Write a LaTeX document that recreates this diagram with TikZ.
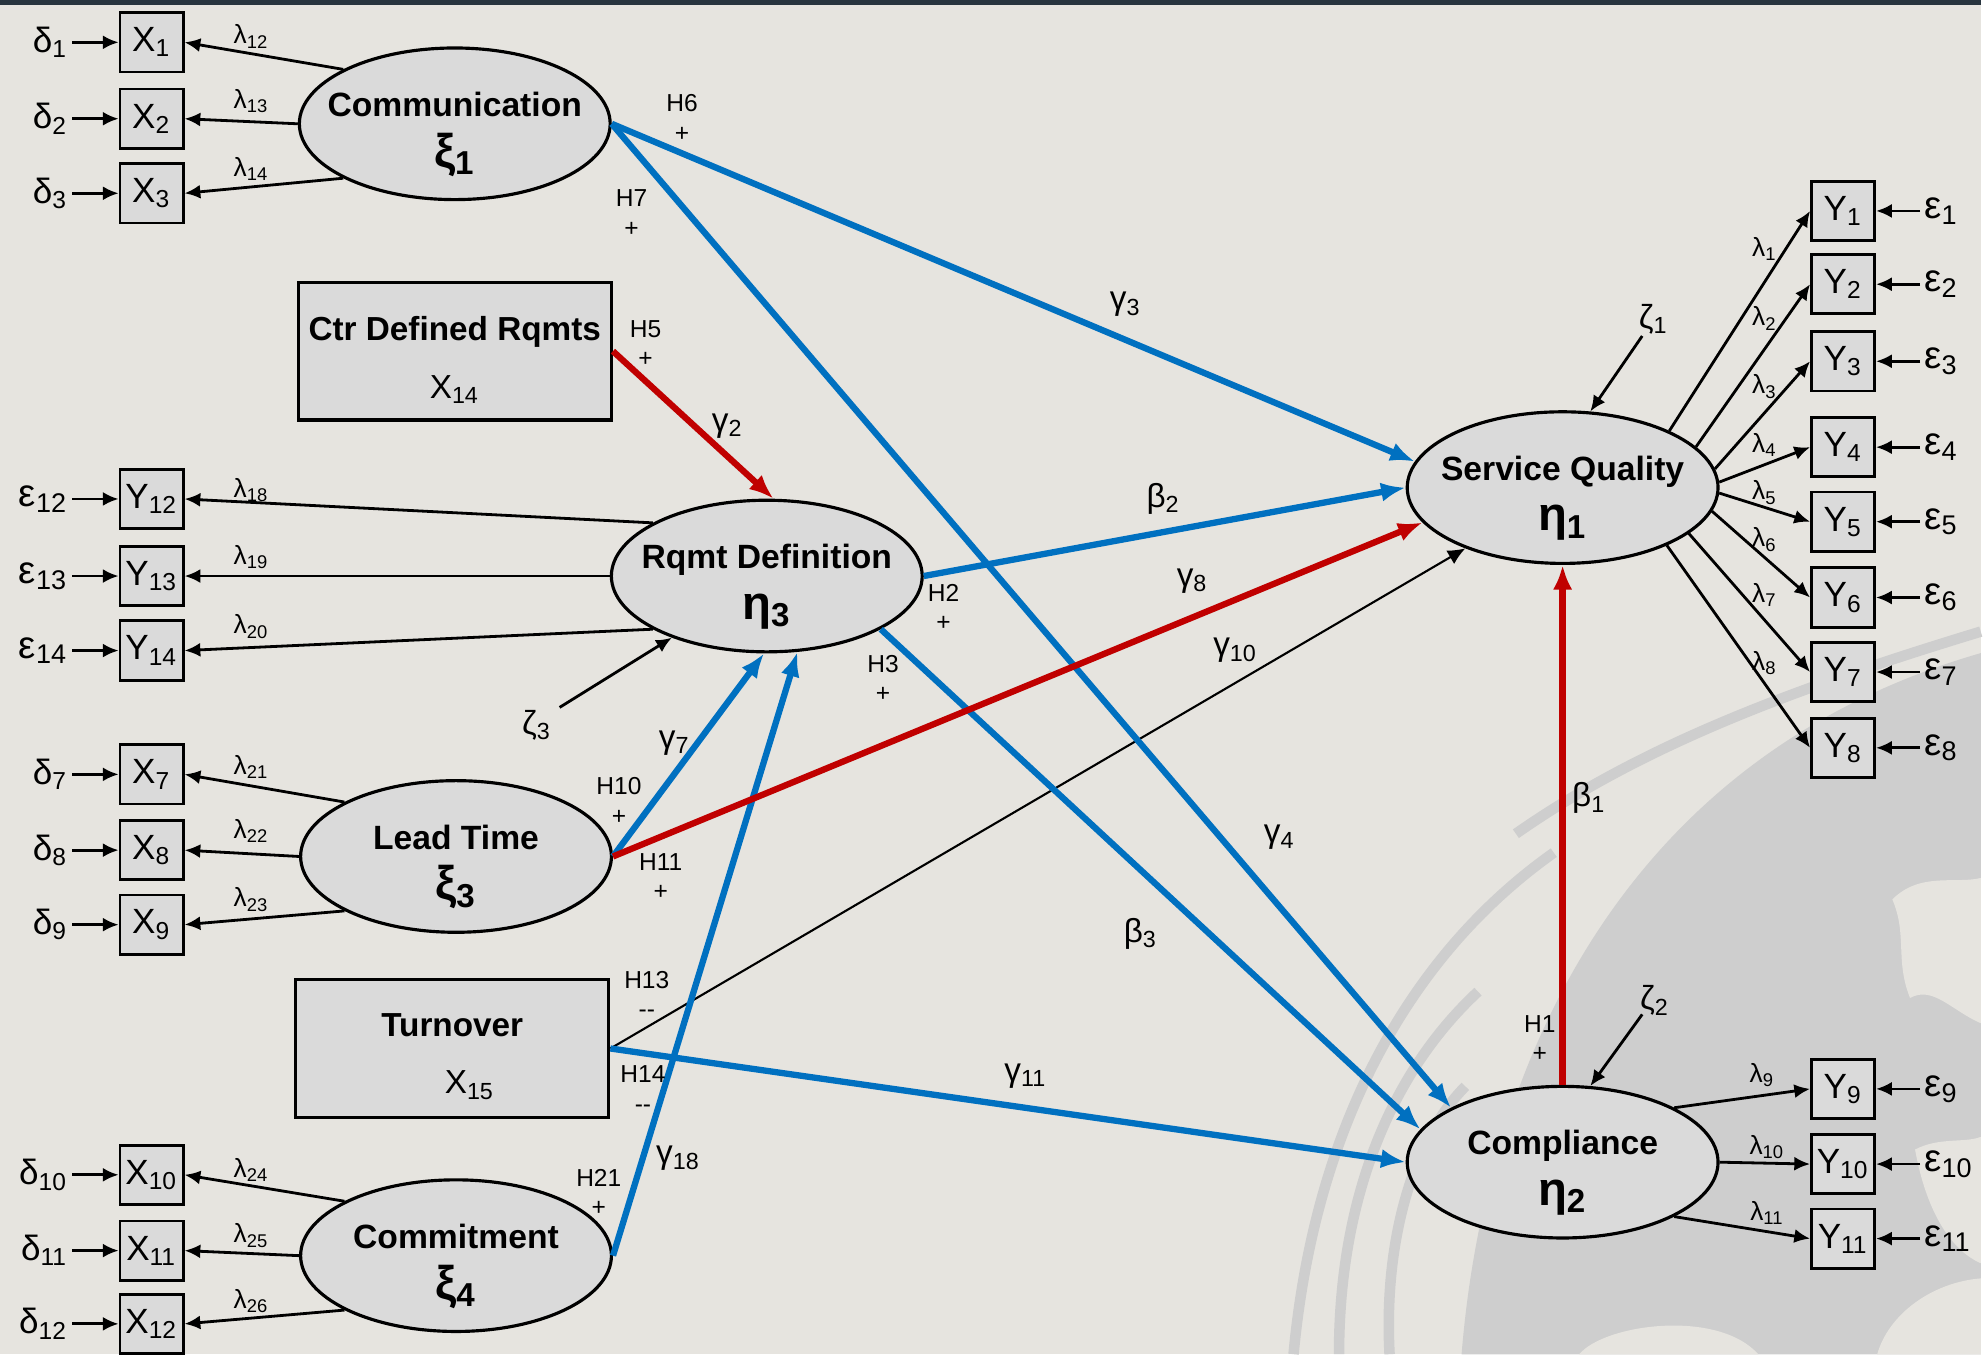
\documentclass[tikz,border=0pt]{standalone}
\usepackage{fontspec}
\setmainfont{Liberation Sans}
\usetikzlibrary{shapes.geometric,arrows.meta}

\definecolor{bgcol}{RGB}{230,228,223}
\definecolor{globe}{RGB}{206,206,206}
\definecolor{pathblue}{RGB}{0,112,192}
\definecolor{pathred}{RGB}{192,0,0}
\definecolor{boxgray}{RGB}{218,218,218}
\definecolor{topbar}{RGB}{40,52,62}

\newcommand{\ix}[1]{\textsubscript{#1}}
\newcommand{\lv}[2]{{\fontsize{13.5}{13.5}\selectfont #1\ix{#2}}}

\tikzset{
  latent/.style={ellipse,draw,line width=0.9pt,fill=boxgray,minimum width=3.116cm,minimum height=1.52cm,inner sep=0pt},
  lattext/.style={align=center,inner sep=0pt,yshift=-3pt,font=\fontsize{9.6}{14.5}\selectfont\bfseries},
  ind/.style={rectangle,draw,line width=0.8pt,fill=boxgray,minimum width=0.633cm,minimum height=0.595cm,inner sep=0pt,font=\fontsize{10}{10}\selectfont},
  obsbox/.style={rectangle,draw,line width=0.9pt,fill=boxgray,minimum width=3.14cm,minimum height=1.38cm,inner sep=0pt,align=center,font=\fontsize{9.5}{16.5}\selectfont},
  err/.style={inner sep=1pt,font=\fontsize{10}{10}\selectfont},
  eps/.style={inner sep=1pt,font=\fontsize{11}{11}\selectfont},
  lam/.style={inner sep=0pt,font=\fontsize{7.5}{7.5}\selectfont},
  hyp/.style={inner sep=0pt,align=center,font=\fontsize{7}{8.4}\selectfont},
  coef/.style={inner sep=0pt,font=\fontsize{9.5}{9.5}\selectfont},
  load/.style={-{Latex[length=4.5pt,width=4pt]},line width=0.8pt},
  bluepath/.style={-{Latex[length=7pt,width=5.5pt]},line width=1.8pt,pathblue},
  redpath/.style={-{Latex[length=7pt,width=5.5pt]},line width=1.8pt,pathred},
}

\begin{document}
\begin{tikzpicture}[x=0.012666cm,y=-0.012666cm]
% background, globe watermark
\fill[bgcol] (0,0) rectangle (1568,1072.2);
\fill[globe] (1157,1072.2) .. controls (1175,850) and (1280,600) .. (1568,517) -- (1568,1072.2) -- cycle;
\draw[globe,line width=3pt] (1024,1072) .. controls (1040,900) and (1110,760) .. (1230,675);
\draw[globe,line width=3pt] (1060,1072) .. controls (1060,950) and (1100,850) .. (1170,785);
\draw[globe,line width=3pt] (1100,1072) .. controls (1095,980) and (1120,900) .. (1160,860);
\draw[globe,line width=3pt] (1200,660) .. controls (1300,590) and (1420,545) .. (1568,500);
\fill[bgcol] (1498,712) .. controls (1520,690) and (1548,700) .. (1568,695) -- (1568,810) .. controls (1545,800) and (1530,780) .. (1512,790) .. controls (1500,760) and (1510,740) .. cycle;
\fill[bgcol] (1516,910) .. controls (1535,900) and (1555,905) .. (1568,900) -- (1568,1000) .. controls (1545,990) and (1525,960) .. cycle;
\fill[bgcol] (1486,1072.2) .. controls (1495,1040) and (1530,1015) .. (1568,1012) -- (1568,1072.2) -- cycle;
\fill[bgcol] (1250,1072.2) .. controls (1270,1048) and (1360,1036) .. (1392,1072.2) -- cycle;
\fill[topbar] (0,0) rectangle (1568,4);

% latent variables
\node[latent] (com) at (360,98) {};
\node[lattext] (comtxt) at (com) {Communication\\\lv{ξ}{1}};
\node[latent] (rqmt) at (607,456) {};
\node[lattext] (rqmttxt) at (rqmt) {Rqmt Definition\\\lv{η}{3}};
\node[latent] (lead) at (361,678) {};
\node[lattext] (leadtxt) at (lead) {Lead Time\\\lv{ξ}{3}};
\node[latent] (commit) at (361,994) {};
\node[lattext] (committxt) at (commit) {Commitment\\\lv{ξ}{4}};
\node[latent] (sq) at (1237,386) {};
\node[lattext] (sqtxt) at (sq) {Service Quality\\\lv{η}{1}};
\node[latent] (comp) at (1237,920) {};
\node[lattext] (comptxt) at (comp) {Compliance\\\lv{η}{2}};

% observed exogenous boxes
\node[obsbox] (ctr) at (360,278) {\rule{0pt}{12pt}\textbf{Ctr Defined Rqmts}\\X\ix{14}};
\node[obsbox] (turn) at (358,830) {\rule{0pt}{11pt}\textbf{Turnover}\\\hspace*{10pt}X\ix{15}};

% indicators, left
\node[ind] (x1) at (120,33.5) {X\ix{1}};
\node[ind] (x2) at (120,94) {X\ix{2}};
\node[ind] (x3) at (120,153) {X\ix{3}};
\node[ind] (y12) at (120,395) {Y\ix{12}};
\node[ind] (y13) at (120,456) {Y\ix{13}};
\node[ind] (y14) at (120,515) {Y\ix{14}};
\node[ind] (x7) at (120,613) {X\ix{7}};
\node[ind] (x8) at (120,673) {X\ix{8}};
\node[ind] (x9) at (120,732) {X\ix{9}};
\node[ind] (x10) at (120,930) {X\ix{10}};
\node[ind] (x11) at (120,990) {X\ix{11}};
\node[ind] (x12) at (120,1048) {X\ix{12}};

\node[err,anchor=east] (d1) at (57,33.5) {δ\ix{1}};
\node[err,anchor=east] (d2) at (57,94) {δ\ix{2}};
\node[err,anchor=east] (d3) at (57,153) {δ\ix{3}};
\node[eps,anchor=east] (e12) at (57,395) {ε\ix{12}};
\node[eps,anchor=east] (e13) at (57,456) {ε\ix{13}};
\node[eps,anchor=east] (e14) at (57,515) {ε\ix{14}};
\node[err,anchor=east] (d7) at (57,613) {δ\ix{7}};
\node[err,anchor=east] (d8) at (57,673) {δ\ix{8}};
\node[err,anchor=east] (d9) at (57,732) {δ\ix{9}};
\node[err,anchor=east] (d10) at (57,930) {δ\ix{10}};
\node[err,anchor=east] (d11) at (57,990) {δ\ix{11}};
\node[err,anchor=east] (d12) at (57,1048) {δ\ix{12}};

% indicators, right
\node[ind] (y1) at (1459,167) {Y\ix{1}};
\node[ind] (y2) at (1459,225) {Y\ix{2}};
\node[ind] (y3) at (1459,286) {Y\ix{3}};
\node[ind] (y4) at (1459,354) {Y\ix{4}};
\node[ind] (y5) at (1459,413) {Y\ix{5}};
\node[ind] (y6) at (1459,473) {Y\ix{6}};
\node[ind] (y7) at (1459,532) {Y\ix{7}};
\node[ind] (y8) at (1459,592) {Y\ix{8}};
\node[ind] (y9) at (1459,862) {Y\ix{9}};
\node[ind] (y10) at (1459,921.5) {Y\ix{10}};
\node[ind] (y11) at (1459,980.5) {Y\ix{11}};

\node[eps,anchor=west] (e1) at (1520,167) {ε\ix{1}};
\node[eps,anchor=west] (e2) at (1520,225) {ε\ix{2}};
\node[eps,anchor=west] (e3) at (1520,286) {ε\ix{3}};
\node[eps,anchor=west] (e4) at (1520,354) {ε\ix{4}};
\node[eps,anchor=west] (e5) at (1520,413) {ε\ix{5}};
\node[eps,anchor=west] (e6) at (1520,473) {ε\ix{6}};
\node[eps,anchor=west] (e7) at (1520,532) {ε\ix{7}};
\node[eps,anchor=west] (e8) at (1520,592) {ε\ix{8}};
\node[eps,anchor=west] (e9) at (1520,862) {ε\ix{9}};
\node[eps,anchor=west] (e10) at (1520,921.5) {ε\ix{10}};
\node[eps,anchor=west] (e11) at (1520,980.5) {ε\ix{11}};

% error terms into indicators
\foreach \e/\b in {d1/x1,d2/x2,d3/x3,e12/y12,e13/y13,e14/y14,d7/x7,d8/x8,d9/x9,d10/x10,d11/x11,d12/x12,
  e1/y1,e2/y2,e3/y3,e4/y4,e5/y5,e6/y6,e7/y7,e8/y8,e9/y9,e10/y10,e11/y11}
  \draw[load] (\e) -- (\b);

% loadings
\draw[load] (com.154) -- (x1.east);
\draw[load] (com.west) -- (x2.east);
\draw[load] (com.206) -- (x3.east);
\draw[load] (rqmt.155) -- (y12.east);
\draw[load] (rqmt.west) -- (y13.east);
\draw[load] (rqmt.205) -- (y14.east);
\draw[load] (lead.154) -- (x7.east);
\draw[load] (lead.west) -- (x8.east);
\draw[load] (lead.206) -- (x9.east);
\draw[load] (commit.154) -- (x10.east);
\draw[load] (commit.west) -- (x11.east);
\draw[load] (commit.206) -- (x12.east);
\draw[load] (sq.28) -- (y1.west);
\draw[load] (sq.17) -- (y2.west);
\draw[load] (sq.7) -- (y3.west);
\draw[load] (sq.2) -- (y4.west);
\draw[load] (sq.-2) -- (y5.west);
\draw[load] (sq.-9) -- (y6.west);
\draw[load] (sq.-20) -- (y7.west);
\draw[load] (sq.-29) -- (y8.west);
\draw[load] (comp.26) -- (y9.west);
\draw[load] (comp.east) -- (y10.west);
\draw[load] (comp.-26) -- (y11.west);

\node[lam] (l12) at (199,29) {λ\ix{12}};
\node[lam] (l13) at (199,80) {λ\ix{13}};
\node[lam] (l14) at (199,134) {λ\ix{14}};
\node[lam] (l18) at (199,388) {λ\ix{18}};
\node[lam] (l19) at (199,441) {λ\ix{19}};
\node[lam] (l20) at (199,496) {λ\ix{20}};
\node[lam] (l21) at (199,607) {λ\ix{21}};
\node[lam] (l22) at (199,658) {λ\ix{22}};
\node[lam] (l23) at (199,712) {λ\ix{23}};
\node[lam] (l24) at (199,926) {λ\ix{24}};
\node[lam] (l25) at (199,978) {λ\ix{25}};
\node[lam] (l26) at (199,1030) {λ\ix{26}};
\node[lam] (l1) at (1397,197) {λ\ix{1}};
\node[lam] (l2) at (1397,252) {λ\ix{2}};
\node[lam] (l3) at (1397,306) {λ\ix{3}};
\node[lam] (l4) at (1397,352) {λ\ix{4}};
\node[lam] (l5) at (1397,390) {λ\ix{5}};
\node[lam] (l6) at (1397,427) {λ\ix{6}};
\node[lam] (l7) at (1397,471) {λ\ix{7}};
\node[lam] (l8) at (1397,525) {λ\ix{8}};
\node[lam] (l9) at (1395,851) {λ\ix{9}};
\node[lam] (l10) at (1399,908) {λ\ix{10}};
\node[lam] (l11) at (1399,960) {λ\ix{11}};

% disturbances
\node[coef] (z1) at (1309,253) {ζ\ix{1}};
\coordinate (z1t) at (1300,266);
\draw[load] (z1t) -- (sq.70);
\node[coef] (z2) at (1310,792) {ζ\ix{2}};
\coordinate (z2t) at (1300,803);
\draw[load] (z2t) -- (comp.70);
\node[coef] (z3) at (425,574) {ζ\ix{3}};
\coordinate (z3t) at (443,560);
\draw[load] (z3t) -- (rqmt.213);

% structural paths
\draw[-{Latex[length=5pt,width=4.5pt]},line width=0.6pt] (turn.east) -- (sq.212);
\draw[bluepath] (com.east) -- (sq.170);
\draw[bluepath] (com.east) -- (comp.154);
\draw[bluepath] (rqmt.east) -- (sq.west);
\draw[bluepath] (rqmt.335) -- (comp.167);
\draw[bluepath] (lead.east) -- (rqmt.268);
\draw[bluepath] (commit.east) -- (rqmt.292);
\draw[bluepath] (turn.east) -- (comp.west);
\draw[redpath] (ctr.east) -- (rqmt.85);
\draw[redpath] (lead.east) -- (sq.194);
\draw[redpath] (comp.north) -- (sq.south);

% hypotheses and coefficients
\node[hyp] (h6) at (540,93.5) {H6\\+};
\node[hyp] (h7) at (500,168.5) {H7\\+};
\node[hyp] (h5) at (511,272) {H5\\+};
\node[hyp] (h2) at (747,481) {H2\\+};
\node[hyp] (h3) at (699,537) {H3\\+};
\node[hyp] (h10) at (490,634) {H10\\+};
\node[hyp] (h11) at (523,694) {H11\\+};
\node[hyp] (h13) at (512,787) {H13\\-{}-};
\node[hyp] (h14) at (509,862) {H14\\-{}-};
\node[hyp] (h21) at (474,944) {H21\\+};
\node[hyp] (h1) at (1219,822) {H1\\+};

\node[coef] (g3) at (891,241) {γ\ix{3}};
\node[coef] (g2) at (576,337) {γ\ix{2}};
\node[coef] (b2) at (921,395) {β\ix{2}};
\node[coef] (g8) at (944,460) {γ\ix{8}};
\node[coef] (g10) at (978,515) {γ\ix{10}};
\node[coef] (g7) at (534,588) {γ\ix{7}};
\node[coef] (g4) at (1013,663) {γ\ix{4}};
\node[coef] (b3) at (903,739) {β\ix{3}};
\node[coef] (g11) at (812,852) {γ\ix{11}};
\node[coef] (g18) at (537,917) {γ\ix{18}};
\node[coef] (b1) at (1258,632) {β\ix{1}};
\end{tikzpicture}
\end{document}
